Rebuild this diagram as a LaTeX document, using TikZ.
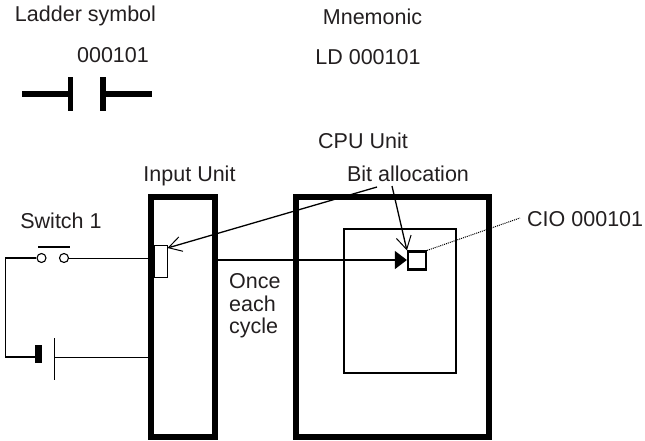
\documentclass[tikz,border=0pt]{standalone}
\usepackage{fontspec}
\setmainfont{Liberation Sans}
\usetikzlibrary{arrows.meta,positioning,calc}
\definecolor{ink}{HTML}{231F20}
\begin{document}
\begin{tikzpicture}[x=1pt, y=-1pt, font=\fontsize{21.5}{22.5}\selectfont,
  lbl/.style={text=ink, inner sep=0pt},
  unitbox/.style={draw, line width=6pt, inner sep=0pt, minimum height=240pt},
  wire/.style={line width=1.3pt},
  thinwire/.style={line width=.8pt},
  rung/.style={line width=5.5pt},
  contact/.style={draw, circle, line width=1.1pt, minimum size=9pt, inner sep=0pt, fill=white},
  open/.style={-{Straight Barb[length=13pt, width=15pt, line width=1pt]}, line width=1.3pt}]
\useasboundingbox (0,0) rectangle (645,440);
% top row
\node[lbl] (ladder) at (85.5,16) {Ladder symbol};
\node[lbl] (mnem) at (372.5,17) {Mnemonic};
\node[lbl] (addr) at (113,55) {000101};
\node[lbl] (instr) at (368,57) {LD 000101};
\coordinate (la) at (22,94);
\coordinate (lb) at (152,94);
\coordinate (lc) at (70.5,77);
\coordinate (ld) at (70.5,111);
\coordinate (le) at (103,77);
\coordinate (lf) at (103,111);
\draw[rung] (la) -- (lc |- la);
\draw[rung] (lc) -- (ld);
\draw[rung] (le) -- (lf);
\draw[rung] (le |- lb) -- (lb);
% units
\node[unitbox, minimum width=64pt] (inunit) at (183,316.5) {};
\node[unitbox, minimum width=193.5pt] (cpuunit) at (392.25,316.5) {};
\node[draw, line width=2.3pt, minimum width=112pt, minimum height=144.5pt, inner sep=0pt] (mem) at (400,301) {};
\node[draw, line width=1pt, fill=white, minimum width=13pt, minimum height=32pt, inner sep=0pt] (inp) at (160.5,261) {};
\node[draw, line width=2.2pt, fill=white, minimum width=18pt, minimum height=18pt, inner sep=0pt] (bit) at (417,260.5) {};
\node[lbl] (input) at (189.5,176) {Input Unit};
\node[lbl] (cpu) at (363,141) {CPU Unit};
\node[lbl] (alloc) at (408,174) {Bit allocation};
\node[lbl, anchor=west] (cio) at (527,219) {CIO 000101};
\node[lbl] (sw) at (61,221) {Switch 1};
\node[lbl, anchor=north west, align=left] (once) at (229,273.5) {Once\\each\\cycle};
% circuit
\node[contact] (s1) at (41.5,258) {};
\node[contact] (s2) at (64,258) {};
\coordinate (top1) at (38,247);
\coordinate (top2) at (70,247);
\draw[wire] (top1) -- (top2);
\coordinate (cl) at (5.5,258);
\coordinate (cb) at (5.5,357);
\coordinate (b1) at (38.5,357);
\coordinate (b2) at (54,357);
\draw[wire] (s1) -- (cl) -- (cb) -- (b1);
\draw[thinwire] (s2) -- (s2 -| inunit.west);
\draw[thinwire] (b2) -- (b2 -| inunit.west);
\draw[line width=6.5pt] (38.5,345) -- (38.5,363);
\draw[thinwire] (54,338) -- (54,380);
% arrows
\coordinate (from) at (inunit.east |- 0,260);
\coordinate (a1) at (377,187);
\coordinate (a2) at (392,186);
\coordinate (d1) at (520,218);
\draw[line width=1.3pt, -{Triangle[length=12pt, width=18pt]}] (from) -- (bit.west |- from);
\draw[open] (a1) -- (inp.east |- 0,248);
\draw[open] (a2) -- (bit.north west);
\draw[line width=1pt, densely dotted] (bit.north east) -- (d1);
\end{tikzpicture}
\end{document}
